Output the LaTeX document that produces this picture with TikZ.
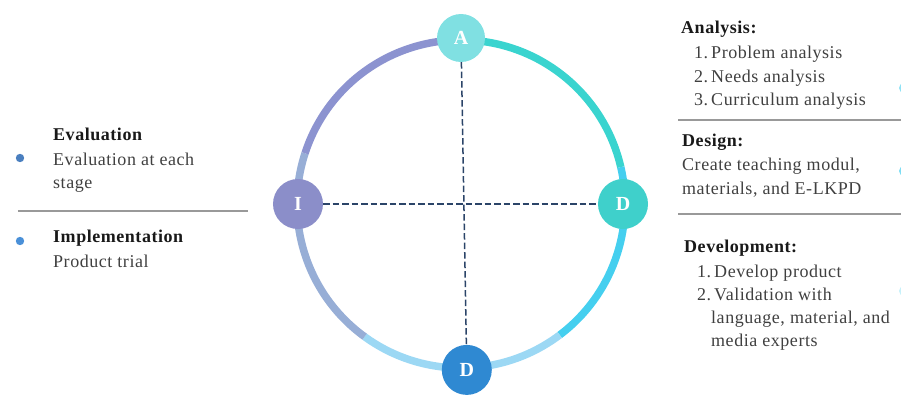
\documentclass[tikz,border=0pt]{standalone}
\usepackage{fontspec}
\setmainfont{Liberation Serif}[LetterSpace=3]
\definecolor{teal1}{HTML}{3AD4CF}
\definecolor{cyan1}{HTML}{45CFEF}
\definecolor{sky1}{HTML}{9CD8F4}
\definecolor{greyblue}{HTML}{97AED6}
\definecolor{lilac}{HTML}{8C93D0}
\definecolor{navy1}{HTML}{2B4468}
\definecolor{txtgrey}{HTML}{404040}
\definecolor{anafill}{HTML}{80E0E2}
\definecolor{desfill}{HTML}{3FD0CB}
\definecolor{devfill}{HTML}{2F89D2}
\definecolor{impfill}{HTML}{8B8EC9}
\definecolor{dotA}{HTML}{4A7FBF}
\definecolor{dotB}{HTML}{4A90D8}
\begin{document}
\begin{tikzpicture}[x=1pt,y=1pt,
		ring/.style={line width=7.5pt},
		phase/.style={circle,minimum size=50pt,inner sep=0pt,text=white,font=\fontsize{20}{20}\selectfont\bfseries},
		dashline/.style={navy1,line width=1.5pt,dash pattern=on 6.5pt off 3pt},
		head/.style={anchor=base west,inner sep=0pt,text=black!90,font=\fontsize{18}{22}\selectfont\bfseries},
		body/.style={anchor=base west,inner sep=0pt,text=txtgrey,font=\fontsize{18}{22}\selectfont},
		sep/.style={black!40,line width=1.2pt}]
	\useasboundingbox (-461,204) rectangle (440,-190);
	% ring
	\draw[ring,teal1] (90:164) arc (90:13:164);
	\draw[ring,cyan1] (13:164) arc (13:-53:164);
	\draw[ring,sky1] (-53:164) arc (-53:-126:164);
	\draw[ring,greyblue] (234:164) arc (234:162:164);
	\draw[ring,lilac] (162:164) arc (162:90:164);
	% phases
	\node[phase,fill=anafill,minimum size=48pt] (ana) at (90:166) {A};
	\node[phase,fill=desfill] (des) at (0:162) {D};
	\node[phase,fill=devfill] (dev) at (-88:166) {D};
	\node[phase,fill=impfill] (imp) at (180:163) {I};
	\draw[dashline] (imp) -- (des);
	\draw[dashline] (ana) -- (dev);
	% left side
	\fill[dotA] (-441,46) circle (4.2);
	\fill[dotB] (-441,-37) circle (4.2);
	\node[head] (evalh) at (-408,64) {Evaluation};
	\node[body] (evalt1) at (-408,39) {Evaluation at each};
	\node[body] (evalt2) at (-408,16) {stage};
	\draw[sep] (-443,-7) -- (-213,-7);
	\node[head] (imph) at (-408,-38) {Implementation};
	\node[body] (impt) at (-408,-63) {Product trial};
	% right side
	\node[head] (anah) at (220,171) {Analysis:};
	\node[body] (anat1) at (233,146) {1.\,Problem analysis};
	\node[body] (anat2) at (233,122) {2.\,Needs analysis};
	\node[body] (anat3) at (233,99) {3.\,Curriculum analysis};
	\draw[sep] (217,84) -- (440,84);
	\node[head] (desh) at (221,58) {Design:};
	\node[body] (dest1) at (221,34) {Create teaching modul,};
	\node[body] (dest2) at (221,10) {materials, and E-LKPD};
	\draw[sep] (217,-10) -- (440,-10);
	\node[head] (devh) at (223,-48) {Development:};
	\node[body] (devt1) at (236,-73) {1.\,Develop product};
	\node[body] (devt2) at (236,-96) {2.\,Validation with};
	\node[body] (devt3) at (250,-119) {language, material, and};
	\node[body] (devt4) at (250,-142) {media experts};
	% edge dots, cut by the page edge
	\fill[cyan1!60] (443,116) circle (5);
	\fill[cyan1!70] (443,33) circle (5);
	\fill[cyan1!30] (443,-87) circle (5);
\end{tikzpicture}
\end{document}
